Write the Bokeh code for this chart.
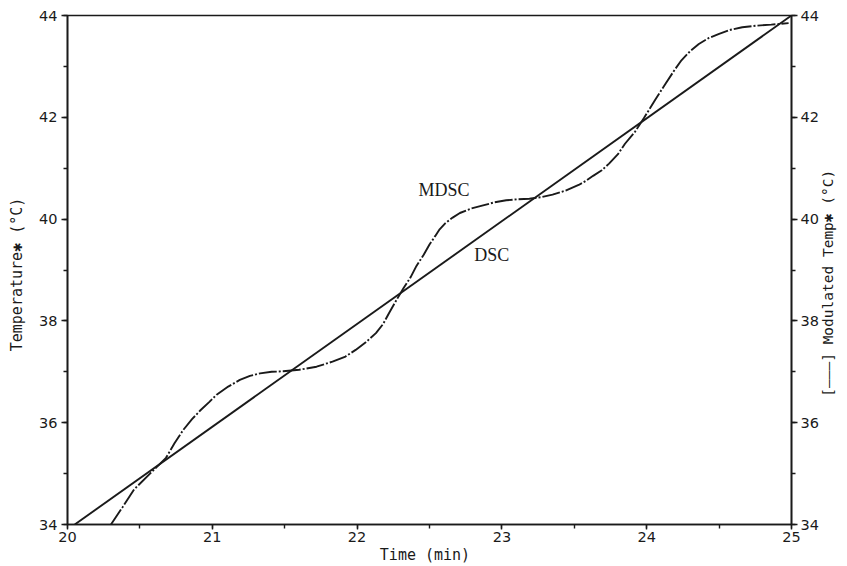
import math
from bokeh.plotting import figure
from bokeh.models import LinearAxis, SingleIntervalTicker, FixedTicker, Label, Range1d
from bokeh.embed import file_html
from bokeh.resources import INLINE

# --- data ---
dsc_time = [20.05, 25.0]
dsc_temp = [34.0, 44.0]

mdsc_time = [20.30, 20.38, 20.46, 20.57, 20.68, 20.74, 20.80, 20.86, 20.92, 20.98,
             21.03, 21.11, 21.19, 21.26, 21.33, 21.41, 21.49, 21.60, 21.72, 21.83,
             21.92, 21.99, 22.06, 22.13, 22.18, 22.22, 22.27, 22.32, 22.37, 22.41,
             22.46, 22.50, 22.54, 22.57, 22.61, 22.66, 22.71, 22.79, 22.87, 22.95,
             23.03, 23.11, 23.19, 23.27, 23.35, 23.44, 23.53, 23.58, 23.63, 23.69,
             23.74, 23.80, 23.85, 23.92, 23.98, 24.06, 24.13, 24.19, 24.24, 24.30,
             24.36, 24.43, 24.50, 24.58, 24.66, 24.76, 24.86, 24.98]
mdsc_temp = [34.00, 34.34, 34.69, 35.00, 35.31, 35.60, 35.86, 36.07, 36.25, 36.41,
             36.55, 36.71, 36.84, 36.92, 36.97, 37.00, 37.01, 37.04, 37.10, 37.20,
             37.30, 37.43, 37.58, 37.76, 37.94, 38.15, 38.40, 38.64, 38.86, 39.08,
             39.30, 39.50, 39.67, 39.80, 39.92, 40.03, 40.12, 40.21, 40.27, 40.33,
             40.37, 40.39, 40.40, 40.43, 40.48, 40.56, 40.67, 40.75, 40.85, 40.96,
             41.09, 41.27, 41.48, 41.72, 41.98, 42.35, 42.66, 42.92, 43.12, 43.30,
             43.44, 43.56, 43.64, 43.72, 43.77, 43.80, 43.82, 43.85]

x_ticks_interval = 1
y_ticks_interval = 2
right_title = "[———]  Modulated Temp✱  (°C)"

ink = "#1a1a1a"

p = figure(width=847, height=566, output_backend="svg", toolbar_location=None,
           x_range=Range1d(20, 25), y_range=Range1d(34, 44),
           min_border_left=67, min_border_right=54, min_border_top=15, min_border_bottom=41)
# helper range (frame pixels from the bottom) used only to place the right-hand title
p.extra_y_ranges = {"title_px": Range1d(0, 510)}

p.background_fill_color = "white"
p.border_fill_color = "white"
p.outline_line_color = ink
p.outline_line_width = 1.6
p.xgrid.visible = False
p.ygrid.visible = False

# DSC straight ramp
p.line(dsc_time, dsc_temp, line_color=ink, line_width=1.9)
# MDSC modulated temperature
p.line(mdsc_time, mdsc_temp, line_color=ink, line_width=1.9, line_dash="18 2 2 2")

def style_axis(ax, major_out, minor_out):
    ax.axis_line_color = ink
    ax.axis_line_width = 1.6
    ax.major_tick_line_color = ink
    ax.minor_tick_line_color = ink
    ax.major_tick_line_width = 1.4
    ax.minor_tick_line_width = 1.4
    ax.major_tick_out = major_out
    ax.major_tick_in = 0
    ax.minor_tick_out = minor_out
    ax.minor_tick_in = 0
    ax.major_label_text_font = "DejaVu Sans"
    ax.major_label_text_font_size = "14.5px"
    ax.major_label_text_color = ink
    ax.axis_label_text_font = "DejaVu Sans Mono"
    ax.axis_label_text_font_size = "15px"
    ax.axis_label_text_font_style = "normal"
    ax.axis_label_text_color = ink

# bottom axis
xa = p.xaxis[0]
xa.ticker = SingleIntervalTicker(interval=x_ticks_interval, num_minor_ticks=2)
style_axis(xa, 5, 4)
xa.major_label_standoff = 2
xa.axis_label = "Time  (min)"
xa.axis_label_standoff = 1

# left axis
ya = p.yaxis[0]
ya.ticker = SingleIntervalTicker(interval=y_ticks_interval, num_minor_ticks=2)
style_axis(ya, 6, 4)
ya.major_label_standoff = 4
ya.axis_label = "Temperature✱  (°C)"
ya.axis_label_standoff = 10

# right axis
ra = LinearAxis(ticker=SingleIntervalTicker(interval=y_ticks_interval, num_minor_ticks=2))
style_axis(ra, 6, 4)
ra.major_label_standoff = 3
p.add_layout(ra, "right")

# right-hand title, reading bottom to top (drawn as the single label of a bare axis)
ta = LinearAxis(y_range_name="title_px", ticker=FixedTicker(ticks=[128]),
                major_label_overrides={128: right_title})
ta.axis_line_color = None
ta.major_tick_line_color = None
ta.minor_tick_line_color = None
ta.major_tick_out = 0
ta.major_tick_in = 0
ta.major_label_orientation = math.pi / 2
ta.major_label_standoff = 7
ta.major_label_text_font = "DejaVu Sans Mono"
ta.major_label_text_font_size = "14.5px"
ta.major_label_text_color = ink
p.add_layout(ta, "right")

# curve labels
p.add_layout(Label(x=22.60, y=40.57, text="MDSC", text_align="center", text_baseline="middle",
                   text_font="Liberation Serif", text_font_size="18px", text_color=ink))
p.add_layout(Label(x=22.93, y=39.29, text="DSC", text_align="center", text_baseline="middle",
                   text_font="Liberation Serif", text_font_size="18px", text_color=ink))

open("out.html", "w").write(file_html(p, INLINE))
